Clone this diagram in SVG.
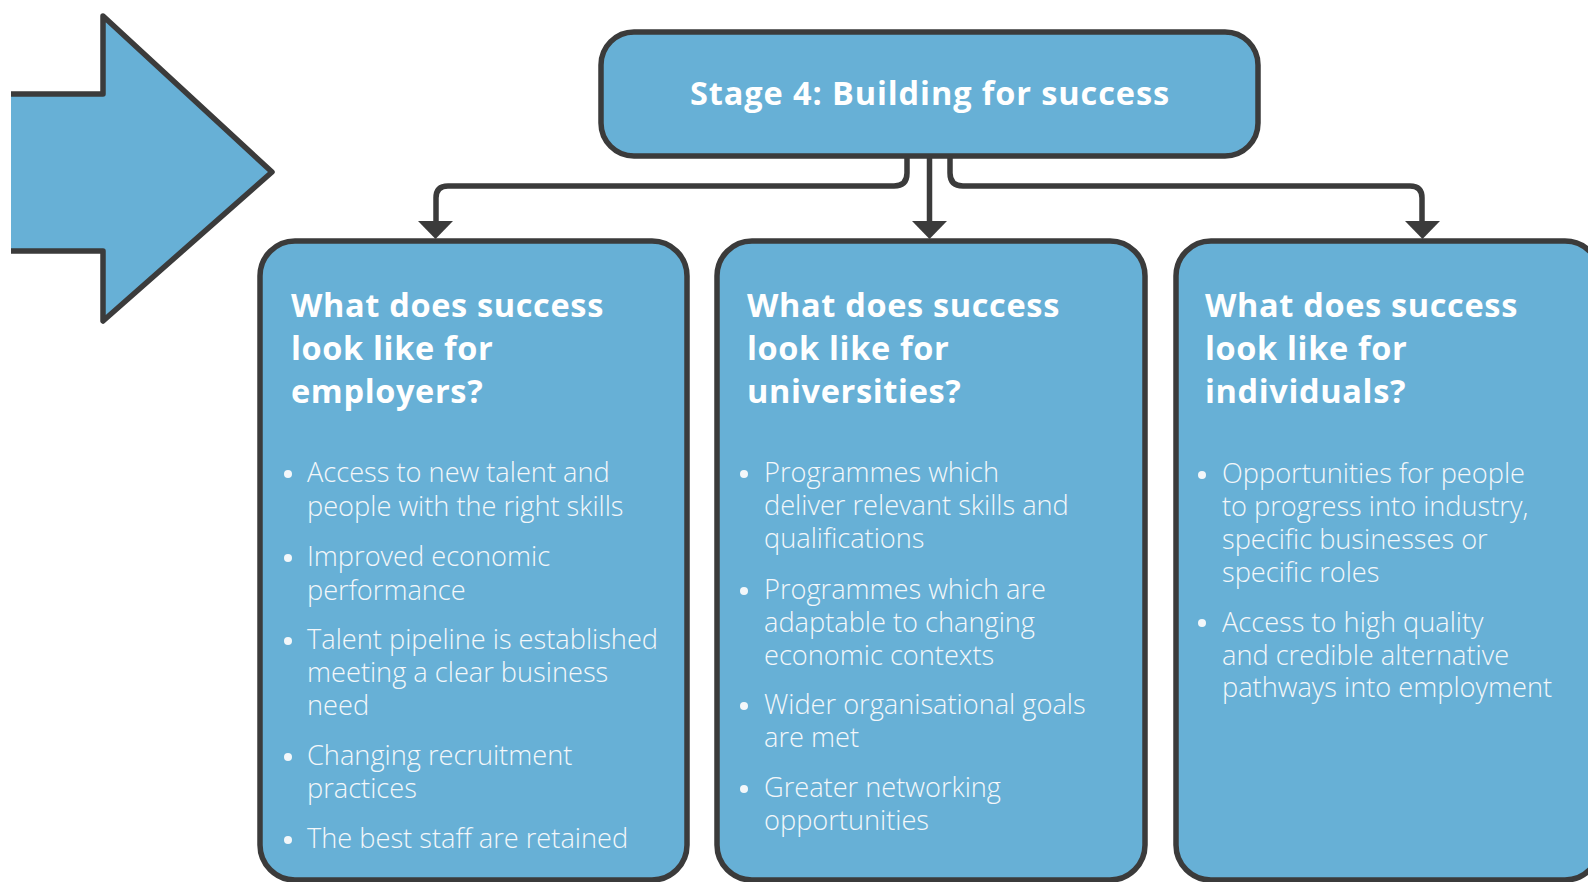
<svg xmlns="http://www.w3.org/2000/svg" width="1588" height="882" viewBox="0 0 1588 882">
  <defs>
    <style>
      .box { fill: #67b0d6; stroke: #3b3b3b; stroke-width: 5.5; }
      .wire { fill: none; stroke: #3b3b3b; stroke-width: 5.5; stroke-linejoin: round; }
      .title { font-family: "Open Sans", "Liberation Sans", sans-serif; font-weight: 700; font-size: 32.5px; letter-spacing: 0.9px; fill: #ffffff; text-anchor: middle; }
      .head { font-family: "Open Sans", "Liberation Sans", sans-serif; font-weight: 700; font-size: 32.5px; letter-spacing: 0.65px; fill: #ffffff; }
      .item { font-family: "Open Sans", "Liberation Sans", sans-serif; font-weight: 300; font-size: 27.2px; fill: #f3f7fa; }
      .dot { fill: #f3f7fa; }
    </style>
  </defs>

  <!-- big incoming arrow on the left -->
  <g id="incoming-arrow">
    <polygon points="11,94 103,94 103,16 272,172 103,321 103,251 11,251" fill="#67b0d6"/>
    <polyline points="11,94 103,94 103,16 272,172 103,321 103,251 11,251" fill="none" stroke="#3b3b3b" stroke-width="5.5" stroke-linejoin="round"/>
  </g>

  <!-- connectors from the stage box to the three questions -->
  <g id="connectors">
    <path class="wire" d="M907 156 V173 Q907 186 894 186 H448 Q436 186 436 198 V222" />
    <path class="wire" d="M929.5 156 V222" />
    <path class="wire" d="M950 156 V173 Q950 186 963 186 H1410 Q1422 186 1422 198 V222" />
    <polygon points="418,221 453,221 435.5,239" fill="#3b3b3b"/>
    <polygon points="912,221 947,221 929.5,239" fill="#3b3b3b"/>
    <polygon points="1405,221 1440,221 1422.5,239" fill="#3b3b3b"/>
  </g>

  <g id="stage">
    <rect class="box" x="601" y="32" width="657" height="124" rx="33" ry="33"/>
    <text class="title" x="930" y="105">Stage 4: Building for success</text>
  </g>

  <g id="employers">
    <rect class="box" x="260" y="241" width="427" height="639" rx="35" ry="35"/>
    <text class="head"><tspan x="291" y="317">What does success</tspan><tspan x="291" y="360">look like for</tspan><tspan x="291" y="402.5">employers?</tspan></text>
    <g class="dot">
      <circle cx="288" cy="474" r="4"/>
      <circle cx="288" cy="558" r="4"/>
      <circle cx="288" cy="641" r="4"/>
      <circle cx="288" cy="757" r="4"/>
      <circle cx="288" cy="840" r="4"/>
    </g>
    <text class="item">
      <tspan x="307" y="482">Access to new talent and</tspan>
      <tspan x="307" y="515.5">people with the right skills</tspan>
      <tspan x="307" y="566">Improved economic</tspan>
      <tspan x="307" y="599.5">performance</tspan>
      <tspan x="307" y="649">Talent pipeline is established</tspan>
      <tspan x="307" y="682">meeting a clear business</tspan>
      <tspan x="307" y="715">need</tspan>
      <tspan x="307" y="765">Changing recruitment</tspan>
      <tspan x="307" y="798">practices</tspan>
      <tspan x="307" y="848">The best staff are retained</tspan>
    </text>
  </g>

  <g id="universities">
    <rect class="box" x="717" y="241" width="428" height="639" rx="35" ry="35"/>
    <text class="head"><tspan x="747" y="317">What does success</tspan><tspan x="747" y="360">look like for</tspan><tspan x="747" y="402.5">universities?</tspan></text>
    <g class="dot">
      <circle cx="744" cy="474" r="4"/>
      <circle cx="744" cy="591" r="4"/>
      <circle cx="744" cy="706" r="4"/>
      <circle cx="744" cy="789" r="4"/>
    </g>
    <text class="item">
      <tspan x="764" y="482">Programmes which</tspan>
      <tspan x="764" y="515">deliver relevant skills and</tspan>
      <tspan x="764" y="548">qualifications</tspan>
      <tspan x="764" y="599">Programmes which are</tspan>
      <tspan x="764" y="632">adaptable to changing</tspan>
      <tspan x="764" y="664.5">economic contexts</tspan>
      <tspan x="764" y="714">Wider organisational goals</tspan>
      <tspan x="764" y="747">are met</tspan>
      <tspan x="764" y="797">Greater networking</tspan>
      <tspan x="764" y="830">opportunities</tspan>
    </text>
  </g>

  <g id="individuals">
    <rect class="box" x="1176" y="241" width="424" height="639" rx="35" ry="35"/>
    <text class="head"><tspan x="1205" y="317">What does success</tspan><tspan x="1205" y="360">look like for</tspan><tspan x="1205" y="402.5">individuals?</tspan></text>
    <g class="dot">
      <circle cx="1202" cy="475" r="4"/>
      <circle cx="1202" cy="623" r="4"/>
    </g>
    <text class="item">
      <tspan x="1222" y="483">Opportunities for people</tspan>
      <tspan x="1222" y="516">to progress into industry,</tspan>
      <tspan x="1222" y="548.5">specific businesses or</tspan>
      <tspan x="1222" y="581.5">specific roles</tspan>
      <tspan x="1222" y="631.5">Access to high quality</tspan>
      <tspan x="1222" y="664.5">and credible alternative</tspan>
      <tspan x="1222" y="697">pathways into employment</tspan>
    </text>
  </g>
</svg>
